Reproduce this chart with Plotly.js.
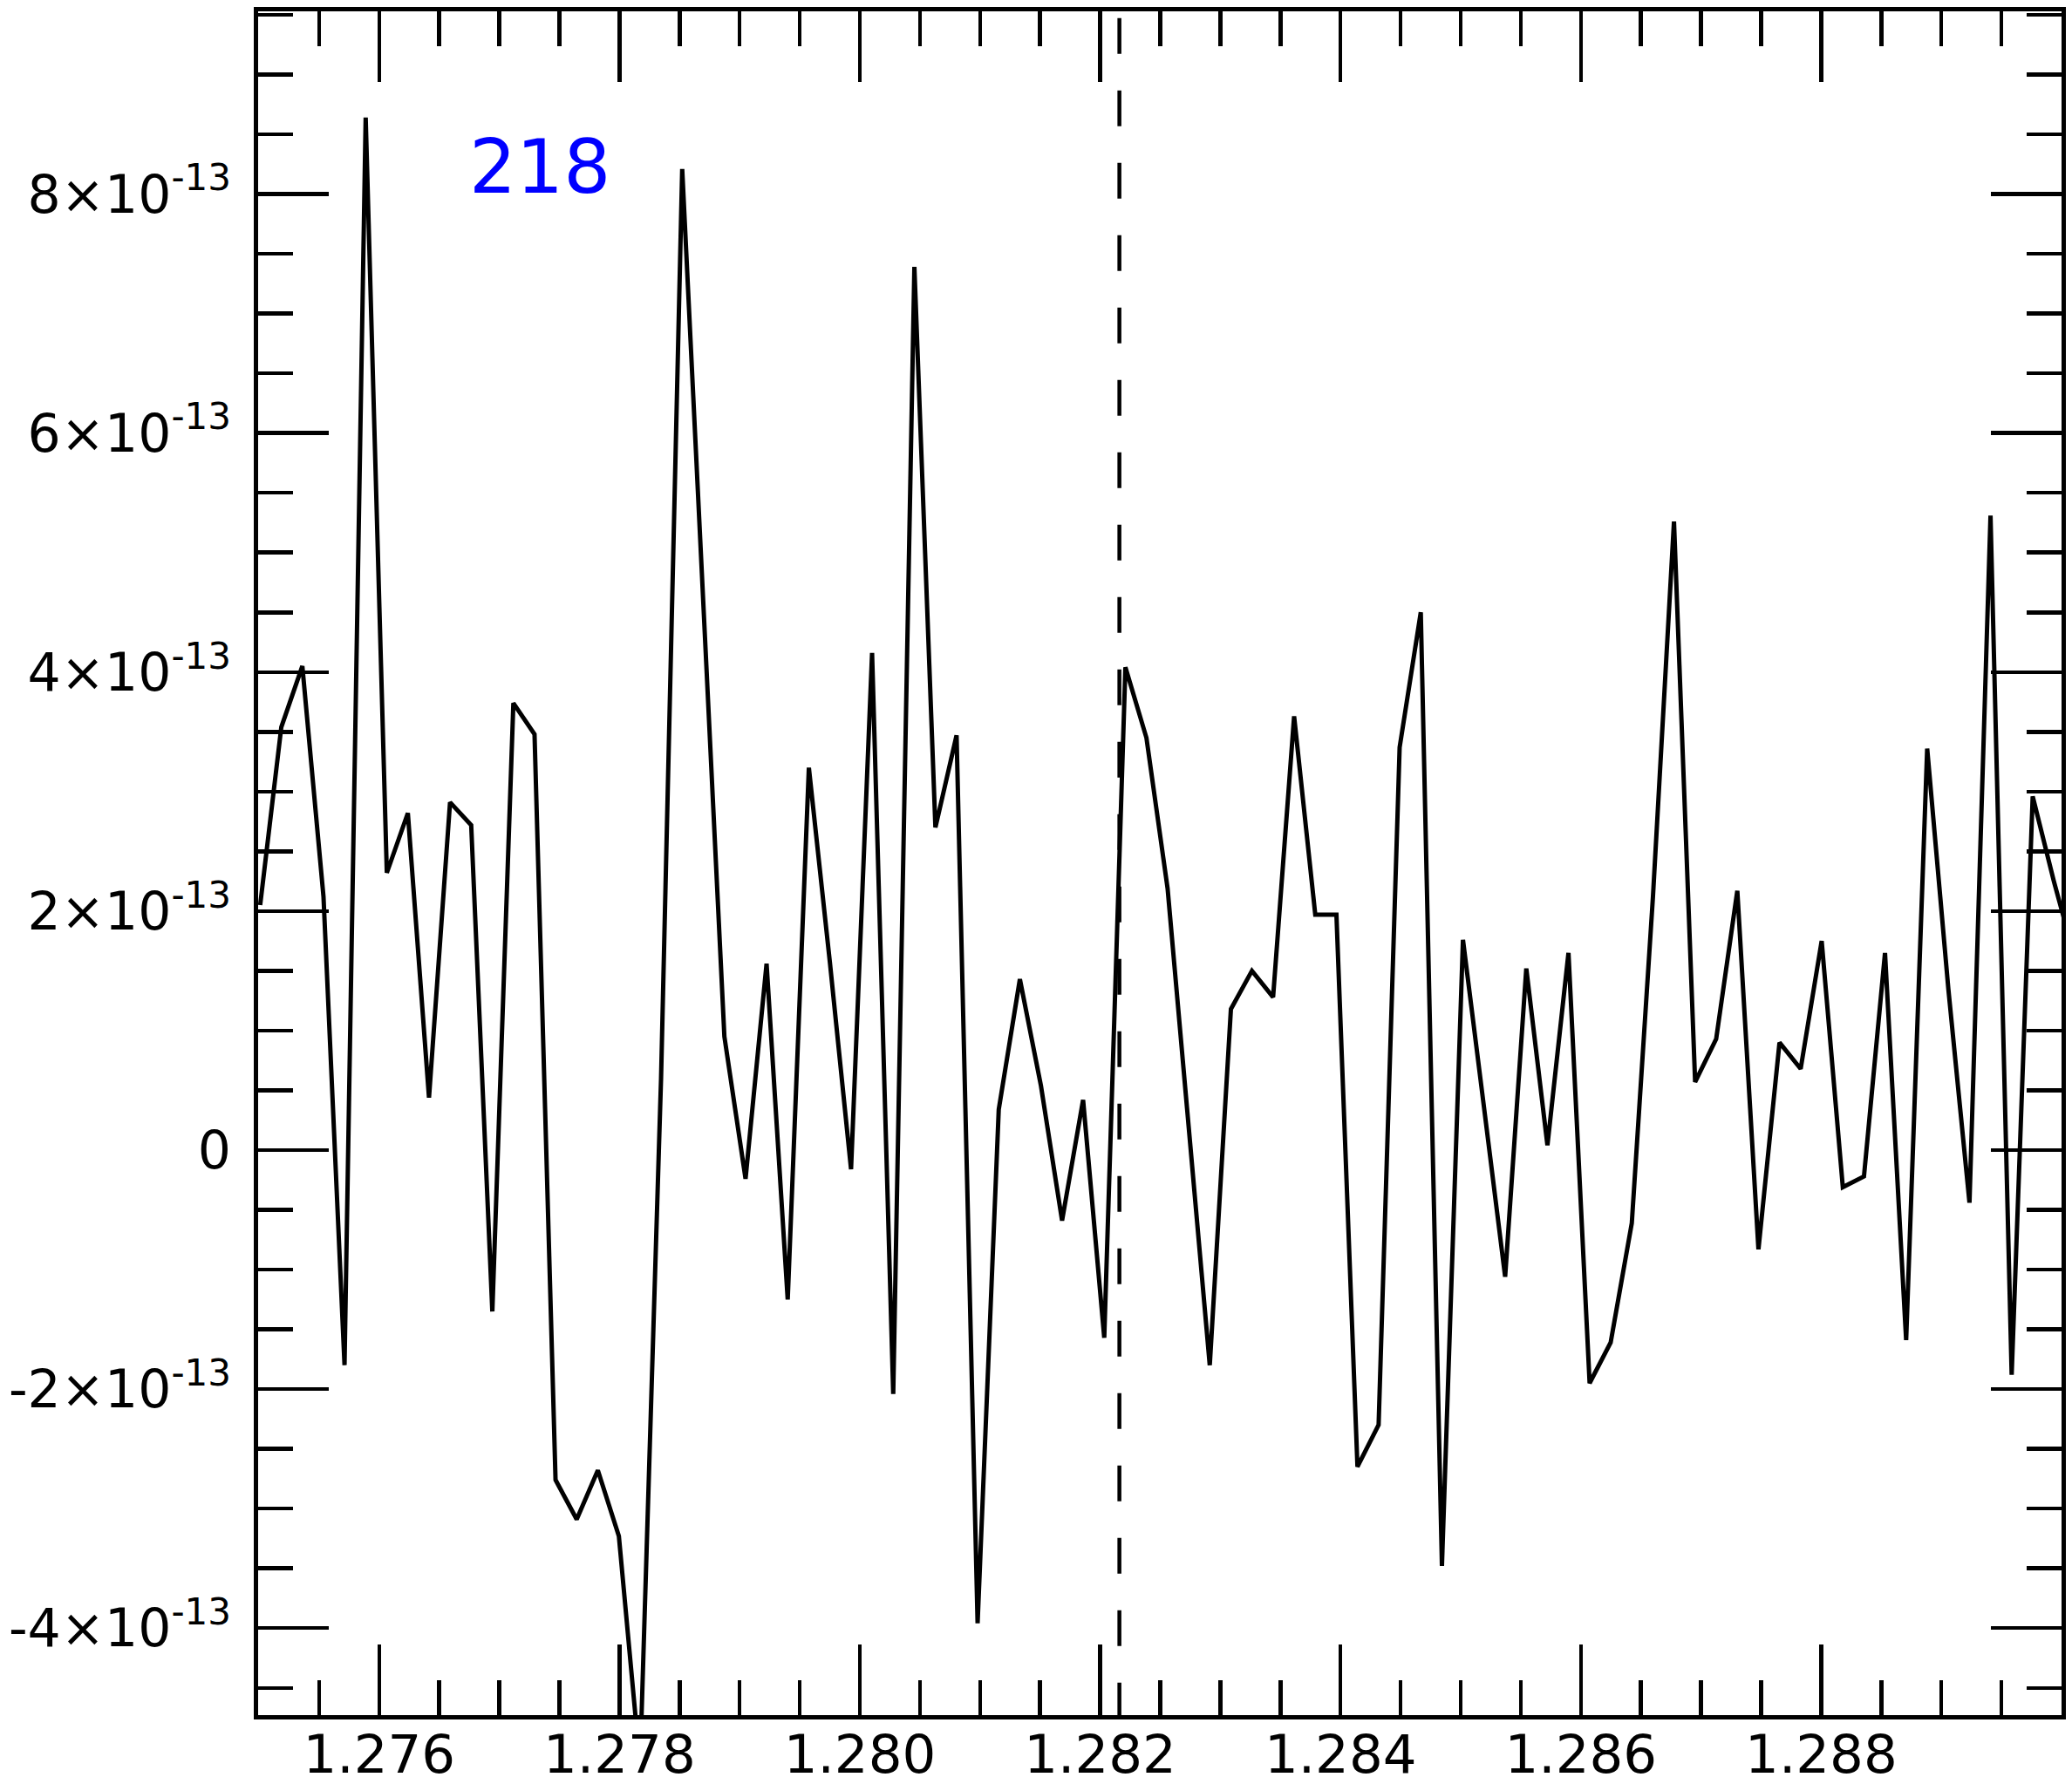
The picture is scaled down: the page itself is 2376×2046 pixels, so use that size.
<!DOCTYPE html>
<html>
<head>
<meta charset="utf-8">
<script src="https://cdn.plot.ly/plotly-3.0.1.min.js"></script>
<style>
  html, body { margin: 0; padding: 0; background: #fff; }
  #plot { width: 2376px; height: 2046px; }
</style>
</head>
<body>
<div id="plot"></div>
<script>
// wavelength grid (microns)
let wavelength = [
  1.275010, 1.275186, 1.275361, 1.275537, 1.275712, 1.275888, 1.276064, 1.276239,
  1.276415, 1.276590, 1.276766, 1.276942, 1.277117, 1.277293, 1.277468, 1.277644,
  1.277820, 1.277995, 1.278171, 1.278346, 1.278522, 1.278698, 1.278873, 1.279049,
  1.279224, 1.279400, 1.279576, 1.279751, 1.279927, 1.280102, 1.280278, 1.280454,
  1.280629, 1.280805, 1.280980, 1.281156, 1.281332, 1.281507, 1.281683, 1.281858,
  1.282034, 1.282210, 1.282385, 1.282561, 1.282736, 1.282912, 1.283088, 1.283263,
  1.283439, 1.283614, 1.283790, 1.283966, 1.284141, 1.284317, 1.284492, 1.284668,
  1.284844, 1.285019, 1.285195, 1.285370, 1.285546, 1.285722, 1.285897, 1.286073,
  1.286248, 1.286424, 1.286600, 1.286775, 1.286951, 1.287126, 1.287302, 1.287478,
  1.287653, 1.287829, 1.288004, 1.288180, 1.288356, 1.288531, 1.288707, 1.288882,
  1.289058, 1.289234, 1.289409, 1.289585, 1.289760, 1.289936, 1.290112
];

// flux, in units of 1e-13
let flux13 = [
  2.05, 3.54, 4.05, 2.12, -1.80, 8.64, 2.32, 2.82,
  0.44, 2.91, 2.72, -1.35, 3.74, 3.48, -2.76, -3.09,
  -2.68, -3.23, -5.15, 0.60, 8.21, 4.52, 0.95, -0.24,
  1.56, -1.25, 3.20, 1.57, -0.16, 4.16, -2.04, 7.39,
  2.70, 3.47, -3.96, 0.34, 1.43, 0.54, -0.59, 0.42,
  -1.57, 4.04, 3.45, 2.19, 0.20, -1.80, 1.18, 1.50,
  1.28, 3.63, 1.97, 1.97, -2.65, -2.30, 3.37, 4.50,
  -3.48, 1.76, 0.35, -1.06, 1.52, 0.04, 1.65, -1.95,
  -1.61, -0.61, 2.12, 5.26, 0.57, 0.93, 2.17, -0.83,
  0.90, 0.68, 1.75, -0.31, -0.22, 1.65, -1.59, 3.36,
  1.35, -0.44, 5.31, -1.88, 2.96, 2.25, 1.60
];

// y tick labels
let yTickVals = [-4e-13, -2e-13, 0, 2e-13, 4e-13, 6e-13, 8e-13];
let yTickText = [
  "-4×10<sup>-13</sup>", "-2×10<sup>-13</sup>", "0",
  "2×10<sup>-13</sup>", "4×10<sup>-13</sup>", "6×10<sup>-13</sup>", "8×10<sup>-13</sup>"
];

let lineCentre = 1.28216;   // dashed marker
let panelLabel = "218";

let trace = {
  x: wavelength,
  y: flux13.map(v => v * 1e-13),
  type: "scatter",
  mode: "lines",
  line: { color: "black", width: 5 },
  hoverinfo: "skip"
};

let axisCommon = {
  showgrid: false,
  zeroline: false,
  showline: true,
  linecolor: "black",
  linewidth: 5,
  mirror: "allticks",
  ticks: "inside",
  ticklen: 81,
  tickwidth: 4.5,
  tickcolor: "black"
};

let layout = {
  width: 2376,
  height: 2046,
  margin: { l: 296, r: 12, t: 13, b: 79 },
  paper_bgcolor: "white",
  plot_bgcolor: "white",
  showlegend: false,
  font: { family: "DejaVu Sans", color: "black" },
  xaxis: Object.assign({}, axisCommon, {
    range: [1.274993, 1.29],
    tickmode: "linear",
    tick0: 1.276,
    dtick: 0.002,
    tickformat: ".3f",
    ticklabelstandoff: -12,
    tickfont: { family: "DejaVu Sans", size: 61, color: "black" },
    minor: { tickmode: "linear", tick0: 1.276, dtick: 0.0005, ticks: "inside", ticklen: 40, tickwidth: 4.5, tickcolor: "black" }
  }),
  yaxis: Object.assign({}, axisCommon, {
    range: [-4.728e-13, 9.529e-13],
    tickmode: "array",
    tickvals: yTickVals,
    ticktext: yTickText,
    ticklabelstandoff: 14,
    tickfont: { family: "DejaVu Sans", size: 60, color: "black" },
    minor: { tickmode: "linear", tick0: 0, dtick: 0.5e-13, ticks: "inside", ticklen: 40, tickwidth: 4.5, tickcolor: "black" }
  }),
  shapes: [{
    type: "line",
    xref: "x", yref: "paper",
    x0: lineCentre, x1: lineCentre,
    y0: 0.996, y1: 0,
    line: { color: "black", width: 4.5, dash: "41px,42px" }
  }],
  annotations: [{
    text: panelLabel,
    xref: "paper", yref: "paper",
    x: 0.1161, y: 0.9084,
    xanchor: "left", yanchor: "middle",
    showarrow: false,
    font: { family: "DejaVu Sans", size: 85, color: "#0000ff" }
  }]
};

Plotly.newPlot("plot", [trace], layout, { staticPlot: true });
</script>
</body>
</html>
